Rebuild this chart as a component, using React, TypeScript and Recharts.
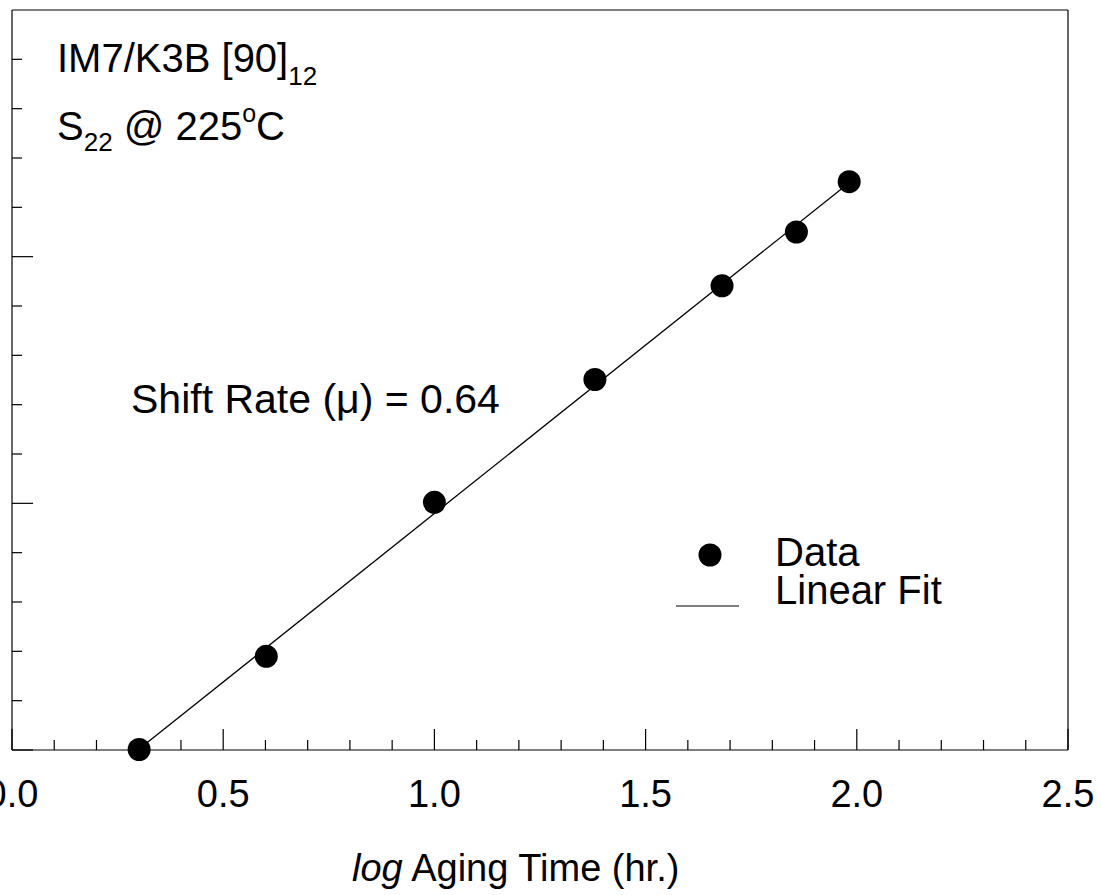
import { ScatterChart, Scatter, XAxis, YAxis } from "recharts"

// log aging time (hr.) and the shift values
const logTime = [0.301, 0.602, 1.0, 1.38, 1.681, 1.857, 1.982]
const shift = [0.001, 0.19, 0.502, 0.751, 0.941, 1.05, 1.152]

// end points of the linear fit line
const fitTime = [0.301, 1.982]
const fitShift = [0.002, 1.15]

const xTicks = [0, 0.1, 0.2, 0.3, 0.4, 0.5, 0.6, 0.7, 0.8, 0.9, 1.0, 1.1, 1.2, 1.3, 1.4, 1.5, 1.6, 1.7, 1.8, 1.9, 2.0, 2.1, 2.2, 2.3, 2.4, 2.5]
const yTicks = [0, 0.1, 0.2, 0.3, 0.4, 0.5, 0.6, 0.7, 0.8, 0.9, 1.0, 1.1, 1.2, 1.3, 1.4, 1.5]

const FONT = '"Liberation Sans", Arial, Helvetica, sans-serif'

const data = logTime.map((x, i) => ({ x, y: shift[i] }))
const fit = fitTime.map((x, i) => ({ x, y: fitShift[i] }))

const isMajor = (v: number) => Math.abs(v * 2 - Math.round(v * 2)) < 1e-6

// bottom axis: inward ticks, labels only on the half units
const XTick = (props: any) => {
  const { x, y, payload } = props
  const v = payload.value
  const major = isMajor(v)
  return (
    <g>
      <line x1={x} x2={x} y1={y} y2={y - (major ? 21 : 10)} stroke="#000" strokeWidth={1.2} />
      {major && (
        <text x={x} y={y + 57} textAnchor="middle" fontFamily={FONT} fontSize={38} fill="#000">
          {v.toFixed(1)}
        </text>
      )}
    </g>
  )
}

// left axis: inward ticks, labels are off the picture
const YTick = (props: any) => {
  const { x, y, payload } = props
  const v = payload.value
  if (v >= 1.5) return <g />
  const major = isMajor(v)
  return <line x1={x} x2={x + (major ? 21 : 10)} y1={y} y2={y} stroke="#000" strokeWidth={1.2} />
}

const Dot = (props: any) => <circle cx={props.cx} cy={props.cy} r={11.5} fill="#000" />

const axisStyle = { stroke: "#000", strokeWidth: 1.2 }

export default function App() {
  return (
    <div style={{ position: "absolute", left: 0, top: 0, width: 1101, height: 895, background: "#fff" }}>
      <ScatterChart width={1101} height={895} margin={{ top: 9, right: 32, bottom: 144, left: 11 }}>
        <XAxis
          dataKey="x"
          type="number"
          domain={[0, 2.5]}
          ticks={xTicks}
          interval={0}
          tick={(p: any) => <XTick {...p} />}
          tickLine={false}
          tickSize={0}
          tickMargin={0}
          height={1}
          axisLine={axisStyle}
        />
        <XAxis
          xAxisId="top"
          orientation="top"
          type="number"
          domain={[0, 2.5]}
          tick={false}
          tickLine={false}
          height={1}
          axisLine={axisStyle}
        />
        <YAxis
          dataKey="y"
          type="number"
          domain={[0, 1.5]}
          ticks={yTicks}
          interval={0}
          tick={(p: any) => <YTick {...p} />}
          tickLine={false}
          tickSize={0}
          tickMargin={0}
          width={1}
          axisLine={axisStyle}
        />
        <YAxis
          yAxisId="right"
          orientation="right"
          type="number"
          domain={[0, 1.5]}
          tick={false}
          tickLine={false}
          width={1}
          axisLine={axisStyle}
        />
        <Scatter
          data={fit}
          line={{ stroke: "#000", strokeWidth: 1.3 }}
          lineType="joint"
          shape={() => <g />}
          isAnimationActive={false}
        />
        <Scatter data={data} shape={(p: any) => <Dot {...p} />} isAnimationActive={false} />
      </ScatterChart>

      <svg
        width={1101}
        height={895}
        style={{ position: "absolute", left: 0, top: 0, pointerEvents: "none" }}
        fontFamily={FONT}
        fill="#000"
      >
        <text x={57} y={72} fontSize={40}>
          IM7/K3B [90]
          <tspan fontSize={26} dy={13}>12</tspan>
        </text>
        <text x={57} y={140} fontSize={40}>
          S<tspan fontSize={26} dy={11}>22</tspan>
          <tspan dy={-11}> @ 225</tspan>
          <tspan fontSize={25} dy={-18}>o</tspan>
          <tspan dy={18}>C</tspan>
        </text>
        <text x={131} y={413} fontSize={41}>
          Shift Rate (μ) = 0.64
        </text>

        <circle cx={710} cy={555} r={11.5} />
        <text x={775} y={566} fontSize={40}>Data</text>
        <line x1={676} x2={739} y1={606} y2={606} stroke="#000" strokeWidth={1.2} />
        <text x={775} y={604} fontSize={40}>Linear Fit</text>

        <text x={352} y={881} fontSize={38}>
          <tspan fontStyle="italic">log</tspan> Aging Time (hr.)
        </text>
      </svg>
    </div>
  )
}
